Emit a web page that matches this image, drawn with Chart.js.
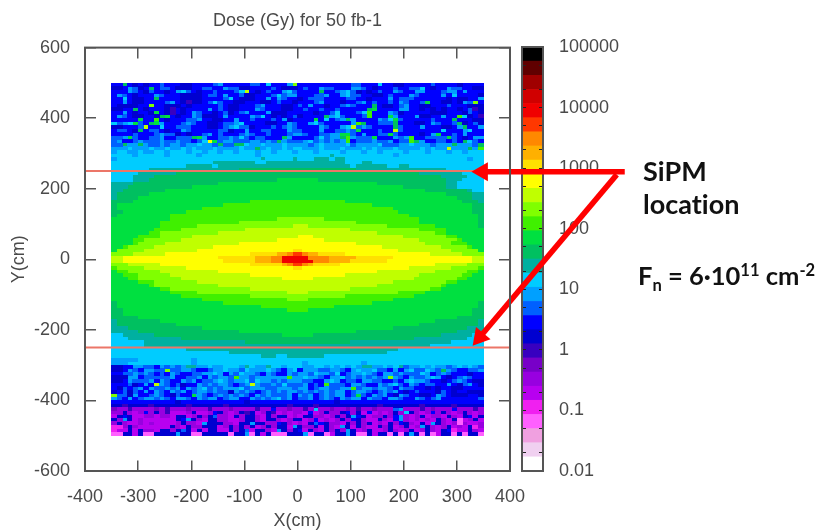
<!DOCTYPE html>
<html lang="en">
<head>
<meta charset="UTF-8">
<title>Dose (Gy) for 50 fb-1</title>
<script src="https://cdn.jsdelivr.net/npm/chart.js"></script>
<style>
    html, body { margin: 0; background: #fff; }
    #wrap { position: relative; width: 826px; height: 532px; overflow: hidden; }
    canvas { position: absolute; left: 0; top: 0; filter: blur(0.7px); }
    .note { position: absolute; font-family: Lato, sans-serif; font-weight: 700; color: #111; white-space: nowrap; font-variant-ligatures: none; }
    .note sub, .note sup { font-size: 65%; line-height: 0; }
</style>
</head>
<body>
<div id="wrap">
    <canvas id="colorbar" width="826" height="532"></canvas>
    <canvas id="dose" width="826" height="532"></canvas>
    <div class="note" style="left:643px;top:154px;font-size:27px">SiPM</div>
    <div class="note" style="left:643px;top:187px;font-size:27px">location</div>
    <div class="note" style="left:638px;top:260px;font-size:25.5px">F<sub>n</sub> = 6·10<sup>11</sup> cm<sup>-2</sup></div>
</div>
<script>
const titleText = "Dose (Gy) for 50 fb-1";
const xTicks = [-400, -300, -200, -100, 0, 100, 200, 300, 400];
const yTicks = [-600, -400, -200, 0, 200, 400, 600];
const sipmY = [250, -250];

// colour box, bottom to top, letter a = first colour
const levelColors = ["#ffffff", "#f0d0f0", "#f0a0e0", "#ff60ff", "#f020f0", "#b800f0", "#9800e0", "#7800c8",
    "#3800c0", "#0000d0", "#0000ff", "#0060ff", "#00a0ff", "#00ccff", "#00b0a0", "#00c060",
    "#00e040", "#40f000", "#80ff00", "#c0ff00", "#ffff00", "#ffe000", "#ffb000", "#ff8800",
    "#ff3800", "#f00000", "#d00000", "#a00000", "#600000", "#000000"];
const levelEdges = [0.01, 0.0171, 0.0293, 0.0501, 0.0858, 0.147, 0.251, 0.43, 0.736, 1.26, 2.15, 3.69, 6.31,
    10.8, 18.5, 31.6, 54.1, 92.7, 158, 271, 464, 794, 1359, 2326, 3981, 6813, 11660, 19953, 34100, 58500, 100000];
const cbTicks = [0.01, 0.02, 0.05, 0.1, 0.2, 0.5, 1, 2, 5, 10, 20, 50, 100, 200, 500, 1000, 2000, 5000, 10000, 20000, 50000, 100000];
const cbLabels = [0.01, 0.1, 1, 10, 100, 1000, 10000, 100000];

// arrows over the plot, in plot units
const arrowTopX = [616, 348];
const arrowTopY = [248, 248];
const arrowLowX = [601, 343];
const arrowLowY = [240, -221];

// cell rows, top (y=495) to bottom (y=-495), 70 cells from x=-345 to 345, "4p" = pppp
const rowY = [495, 485, 475, 465, 455, 445, 435, 425, 415, 405, 395, 385, 375, 365, 355, 345, 335, 325, 315, 305,
    295, 285, 275, 265, 255, 245, 235, 225, 215, 205, 195, 185, 175, 165, 155, 145, 135, 125, 115, 105,
    95, 85, 75, 65, 55, 45, 35, 25, 15, 5, -5, -15, -25, -35, -45, -55, -65, -75, -85, -95,
    -105, -115, -125, -135, -145, -155, -165, -175, -185, -195, -205, -215, -225, -235, -245, -255, -265, -275, -285, -295,
    -305, -315, -325, -335, -345, -355, -365, -375, -385, -395, -405, -415, -425, -435, -445, -455, -465, -475, -485, -495];
const columnX = [-345, -335, -325, -315, -305, -295, -285, -275, -265, -255, -245, -235, -225, -215, -205, -195, -185, -175, -165, -155,
    -145, -135, -125, -115, -105, -95, -85, -75, -65, -55, -45, -35, -25, -15, -5, 5, 15, 25, 35, 45,
    55, 65, 75, 85, 95, 105, 115, 125, 135, 145, 155, 165, 175, 185, 195, 205, 215, 225, 235, 245,
    255, 265, 275, 285, 295, 305, 315, 325, 335, 345];
const doseRows = [
    "kkpkjkjkkl kkkjjkkkkl mkkkkkllkn kkkmskkkkk kkkkkllkkk nkkjjkkkkk lkkkkjkkkk",
    "jjkmljkpkl lkjjjkkllk kmlljjkkkk lkjjjklkkm llkkkmmlkj kkklkkllnk jkkmllkkjj",
    "kkkmlkjlkk jkmnlkjkkl kkklntkjkl kkmnlkkkkp kklmnljkjk lkkmlkkmmk kklmmkmkkk",
    "kmlkjkkkml kkkjjjjkll kmkkljjkkk lnlmmkkkll mkkmnllkkj jklkkkmlkk kkmknkkkkj",
    "kknkjjkkpk kkkjjjjkkk klnkjjjkkm kmlkkjklll kkkkllkkjk kkmklllkkk kkkjkjjkkm",
    "kkmkjjkkkk lmkjijjkln lkkjjkkkjj klkkjkkklm kkkjkklmkl kklkmlkklq kkjjkjmlsk",
    "kjjjjkkskk jjjkjkkkkk lkjjkkklmk kkjjklkmkk jkklmlkkkp kjjklmkkjj kkklkkkjjj",
    "jjkkpkjkkk jikjkkkkmk lkjjkkkmlk kkjjkklkkl kklkkkkkpq kkkkmmkkjk jkjkkjklij",
    "kkmkjkkjqk jikjkmlkkj kljklmkkkm jjjkkkkkjk klnkkklnrk kkmljkkkkk jjjkkkjlkj",
    "kmlkjjkkjp qkjkkmljjj kmkkkkmlnk jkjkljkkkk pmnlkkklrk kkqmkkkmjj kkmkkrnjki",
    "kkkkkqkkrk jkkkllmkkj jkkmkklkkk lkmjkkkkqk nklmpmkkkk mlnqlkkkkk lkkkpkkkjj",
    "nlmnqlkpqm kkklmlkkjj kllmnkkkkj jkkmlkkmnl kkkkkmrpkk lllpkkkjjk mlkklpjklj",
    "jjkkkltkkn kklllkkkjj klmnlljkkk lklmlkkkkm lkkmntlmlk kkkplkkkmk kkjjkmpkkm",
    "kllkjpkllk jkkmlkkkkk lljkkmkkll kkkmllkkkm kkllmlqkkk lkktlkkkkk kknkkkmnkk",
    "kkkklkkklm lljkjkklmk lkkklmlkkl kkklmmlkkl lmmqqlkmkk llqlkkkkjk mqkklkmkkk",
    "llmqlkkllm kklllpqmkk llmlnlkllk kkpmkkkkln lmmprmlllq kkkmlmrkkl lllqlkjkmm",
    "lmkklmlllm llmllklnuq lmmlllmmlm lpmlllmnlm lmlmrklllm llmkllrpmk kllklkpnlk",
    "llpmmpmllm lmmlmmnmml pllppnmmnm mmnmmmmlmn mmmmnlmmmm nlllmmnmmm lmmmpmmmlp",
    "mmmnmmmnmm nmmnmnmmmn mmmmnmmpmn mmnmnnmmmn mmmnmmmnmn mmmnmmmmnm nmmtmmmpmr",
    "mnnmmnmmnn mnnnmnnmnn mnnmnnnmnn mnnnmnnnmn nnnmnnnmnn mnnnnmnnnm nnnmnnmnnn",
    "nnnnmnnnnn mnnnnnmnnn nnnnnnnmnn nnnnnnnnnn nonnnnnnnn nnnmnnnnnn nnnnnnnnnn",
    "mnnnnnnnnn nnnnnnnnnn nnnnnnnnon nnnnonnnoo onoonnnnnn nnnnnnnnnn nnnnnnnmnn",
    "19n8o2n15o3n2o21n",
    "14n5o1n25o1n6o2n2o14n",
    "7n17o22p17o7n",
    "5n7o46p8o4n",
    "4n4o54p5o3n",
    "4n3o24p8q24p3o4n",
    "4o16p30q13p2o5n",
    "3o12p40q8p2o5n",
    "2o8p49q8p1o2n",
    "1o6p56q5p2o",
    "1o4p60q3p2o",
    "4p22q18r22q3p1o",
    "1p20q28r19q2p",
    "1p16q36r15q2p",
    "2p12q40r14q2p",
    "1p10q45r13q1p",
    "11q20r9s18r11q1p",
    "9q15r22s12r11q1p",
    "9q7r18s3t15s9r8q1p",
    "8q5r12s20t13s5r7q",
    "7q2r11s30t11s2r7q",
    "5q4r6s20t3u17t8s2r5q",
    "4q2r7s18t9u18t7s1r4q",
    "4q1r5s14t22u13t5s3r3q",
    "2q1r5s11t32u11t5s1r2q",
    "1q5s10t18u2v18u10t5s1q",
    "4s6t16u5v2w1x2y1x2w5v16u6t4s",
    "2t18u7v3w2x5z4x5w7v15u2t",
    "2t19u6v3w2x6z3x4w7v16u2t",
    "3s6t17u6v1w1x2y1x1w5v18u6t3s",
    "1r5s8t20u2v20u8t5s1r",
    "1q2r6s11t30u11t6s2r1q",
    "2q3r6s15t18u14t8s2r2q",
    "3q2r8s19t6u19t8s2r3q",
    "5q3r8s37t10s2r5q",
    "7q1r12s30t12s1r7q",
    "9q2r15s19t15s2r8q",
    "11q5r17s4t17s5r11q",
    "13q13r18s13r13q",
    "17q16r4s16r17q",
    "1p20q28r20q1p",
    "1p27q14r27q1p",
    "2p31q4r31q2p",
    "2p66q2p",
    "5p60q5p",
    "1o8p52q8p1o",
    "1o11p46q11p1o",
    "3o14p36q14p3o",
    "5o19p22q19p5o",
    "2n6o24p6q24p6o2n",
    "3n10o44p10o3n",
    "6n19o20p19o6n",
    "6n54o10n",
    "14n40o16n",
    "22n30o18n",
    "28n3o2n7o30n",
    "5m10n1m54n",
    "3m12n1m20n1m10n1m22n",
    "jjkkmmllkm lmlmoommnm mnnnmonmmo nnmnnnmmnn mnmnmnmoom mnmnolmmnm nmmlmnmnml",
    "jjkmlkmmll sllmmlkklm mnmmlnmmmn mlkmnkmmml lmmlkmnmmn llkmkmnlln mlpmlkkllm",
    "kkllmlmlkl kmlkkllmmn mkmlnmmlkm lkkmlmmlnm mlnklmmnml kmmlmlllnm klmlkkkjkk",
    "jjjmmkllll lmkkllmkml mmlrmmlmmm mmmrmmnmml kmmnlmlmlm lmsmlkmllm nmkjklmlkk",
    "jjkmlllmkm lkkmlmkllm nmlmmnlnmm lmlmmmllkk mnmkllkmml lkklkmnmml kkjklmlkjj",
    "kkkljkmktm lkljkkmlml mmlklmtmll mlnlllmklk rlllkmmlkk mlmnlkmlkl lkkmkjlmkj",
    "kjlklmkmll mlmkmlmnlm lmmmnlmmml lmmmlmmklm mllmmrlmml mmlkmllkkj kjkkjjkkkk",
    "jkljlkmkml kmlmklmmlm lljmlmlklm lmlmmlmlml mlmmklmmlk lmlmkjklkk kjlkjkkjjj",
    "slljmkklml kjlkkqmlkl mlmlmlkmlm lllmkmlmkl mlmmklqlkm lmkjmlkkjj kmlkjjjkkj",
    "mlkmklmmlm lkmmlkmlmm klmmkkmlml mnlmkllmkl mlkmlmmkml lkmmlkkmlk lmkkkkkkkl",
    "kkkkkkkkkk kkjkkkkkkk kkkkkjkkkk kkkkkkkkkk kkjkkkkkkk kkkkkkkkkk kkkkkkkkkk",
    "jjijjjjijj jjjjijjjjj jijjjjjjjj jjjijjjjij jjjjjjjjjj ijjjjjjjij jjjjijjjjj",
    "hggigggghg iggghgggig gghggggigg kgghggigng ghgghgiggh ggglmgggig hgggkgggig",
    "ggjgfgkgjg ifffgjffgk jgfgjijfgj ifgfggfkfg jggjkgjfkf gfgjgnjgfg kgjgfgjgfg",
    "fjkjffggfg gfjjfgjgjl ggfjgjjgfj gjjfgfjjgg fgjgjmkjfg gjgkmgfgjf ggfjgfjkfj",
    "jgmjfgffff ffjkmjgfjj ggffgjjgfj jgfgjjfgkf gfgjgkjgff jgfkmgfgfg fjgfjdfgjf",
    "gjgffgfgff ffgjggfmjj jggfjjmjjg gkjgfgfjlk jggfjgjgjf gfjgkjgfjf mjgfgdgffg",
    "eegjgfffff fjgfjggjjj fgjgjgjfgj gjjfmjggjf jgfmjfjgff jgjfgjfgmj gfgjfgfjeg",
    "effjfjggfj jgjljfjfjj ffjgjlfjjg fmjgjkfjgf jgjgmjfgjf fgjgfgjfgj gfjkeffjgf",
    "ddjjfjddjj jjmjjddjjj jjdjjmdjfj dddjjjmdjj dfjjmjddjf jjdjdjmjdj dfjjdjdjjd"
];

const inkColor = "#4a4a4a";
const frameColor = "#555";
const textFont = { family: "'Liberation Sans', Arial, sans-serif", size: 18 };

// one small canvas per colour, used as the point image of a cell
function cellImage(color) {
    const c = document.createElement("canvas");
    c.width = 6;
    c.height = 4;
    const g = c.getContext("2d");
    g.fillStyle = color;
    g.fillRect(0, 0, 6, 4);
    return c;
}

const cellsByLevel = levelColors.map(() => []);
doseRows.forEach((row, r) => {
    let col = 0;
    for (const m of row.matchAll(/(\d*)([a-z])/g)) {
        const n = m[1] ? parseInt(m[1]) : 1;
        const level = m[2].charCodeAt(0) - 97;
        for (let i = 0; i < n; i++) {
            cellsByLevel[level].push({ x: columnX[col], y: rowY[r] });
            col++;
        }
    }
    if (col !== 70) console.error("row", rowY[r], "has", col, "cells");
});

const heatSets = cellsByLevel.map((cells, level) => ({
    type: "scatter",
    data: cells,
    pointStyle: cellImage(levelColors[level]),
    pointRadius: 3,
    order: 3
}));

const frame = {
    id: "frame",
    afterDraw(chart) {
        const a = chart.chartArea, ctx = chart.ctx;
        ctx.save();
        ctx.strokeStyle = frameColor;
        ctx.lineWidth = 2;
        ctx.strokeRect(a.left, a.top, a.right - a.left, a.bottom - a.top);
        ctx.restore();
    }
};

const lineSet = (xs, ys, color, width, order) => ({
    type: "scatter",
    showLine: true,
    data: xs.map((x, i) => ({ x: x, y: ys[i] })),
    borderColor: color,
    borderWidth: width,
    pointRadius: 0,
    clip: false,
    order: order
});

const headSet = (x, y, angle) => ({
    type: "scatter",
    data: [{ x: x, y: y }],
    pointStyle: "triangle",
    pointRotation: angle,
    pointRadius: 11,
    backgroundColor: "#ff0000",
    borderWidth: 0,
    clip: false,
    order: 0
});

new Chart(document.getElementById("dose"), {
    type: "scatter",
    data: {
        datasets: [
            headSet(arrowTopX[1], arrowTopY[1], -90),
            headSet(arrowLowX[1], arrowLowY[1], -139.8),
            lineSet(arrowTopX, arrowTopY, "#ff0000", 5.5, 1),
            lineSet(arrowLowX, arrowLowY, "#ff0000", 5.5, 1),
            lineSet([-400, 400], [sipmY[0], sipmY[0]], "#ec7668", 2, 2),
            lineSet([-400, 400], [sipmY[1], sipmY[1]], "#ec7668", 2, 2)
        ].concat(heatSets)
    },
    options: {
        responsive: false,
        animation: false,
        events: [],
        layout: { padding: { left: 0, right: 316, top: 0, bottom: 0 } },
        plugins: {
            legend: { display: false },
            tooltip: { enabled: false },
            title: {
                display: true,
                text: titleText,
                color: inkColor,
                fullSize: false,
                font: { family: textFont.family, size: 18, weight: "normal" },
                padding: { top: 10, bottom: 16 }
            }
        },
        scales: {
            x: {
                type: "linear",
                min: -400,
                max: 400,
                afterBuildTicks: s => { s.ticks = xTicks.map(v => ({ value: v })); },
                afterFit: s => { s.height = 61; },
                ticks: { color: inkColor, font: textFont, padding: 15, maxRotation: 0, autoSkip: false, callback: v => String(v) },
                grid: { color: frameColor, lineWidth: 1.5, drawTicks: false },
                border: { display: false, dash: [11, 402] },
                title: { display: true, text: "X(cm)", color: inkColor, font: textFont, padding: { top: 3, bottom: 0 } }
            },
            y: {
                type: "linear",
                min: -600,
                max: 600,
                afterBuildTicks: s => { s.ticks = yTicks.map(v => ({ value: v })); },
                afterFit: s => { s.width = 85; },
                ticks: { color: inkColor, font: textFont, padding: 15, autoSkip: false, callback: v => String(v) },
                grid: { color: frameColor, lineWidth: 1.5, drawTicks: false },
                border: { display: false, dash: [11, 403] },
                title: { display: true, text: "Y(cm)", color: inkColor, font: textFont, padding: { top: 8, bottom: 0 } }
            }
        }
    },
    plugins: [frame]
});

new Chart(document.getElementById("colorbar"), {
    type: "bar",
    data: {
        labels: ["dose"],
        datasets: levelColors.map((color, i) => ({
            data: [[levelEdges[i], levelEdges[i + 1]]],
            backgroundColor: color,
            borderWidth: 0,
            barPercentage: 1,
            categoryPercentage: 1,
            grouped: false
        }))
    },
    options: {
        responsive: false,
        animation: false,
        events: [],
        layout: { padding: { left: 522, right: 0, top: 47, bottom: 61 } },
        plugins: { legend: { display: false }, tooltip: { enabled: false } },
        scales: {
            x: { display: false },
            y: {
                type: "logarithmic",
                position: "right",
                min: 0.01,
                max: 100000,
                afterBuildTicks: s => { s.ticks = cbTicks.map(v => ({ value: v })); },
                afterFit: s => { s.width = 283; },
                ticks: {
                    color: inkColor,
                    font: textFont,
                    padding: 16,
                    autoSkip: false,
                    callback: v => cbLabels.includes(v) ? String(v) : ""
                },
                grid: { color: "#222", lineWidth: 1, drawTicks: false, z: 1 },
                border: { display: false, dash: [4, 13] }
            }
        }
    },
    plugins: [frame]
});
</script>
</body>
</html>
